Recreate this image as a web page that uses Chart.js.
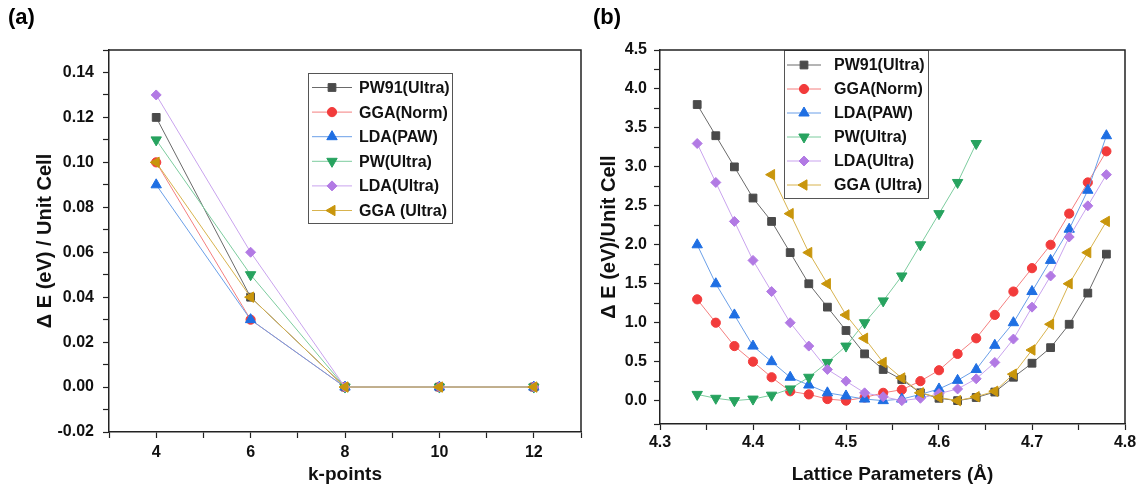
<!DOCTYPE html>
<html><head><meta charset="utf-8">
<script src="https://cdn.jsdelivr.net/npm/chart.js@4.4.1/dist/chart.umd.min.js"></script>
<style>
html,body{margin:0;padding:0;background:#fff;width:1137px;height:488px;overflow:hidden;position:relative;}
#ca{position:absolute;left:0;top:0;}
#cb{position:absolute;left:585px;top:0;}
.lab{position:absolute;font:bold 22px 'Liberation Sans',Arial,sans-serif;color:#000;line-height:26px;}
</style></head>
<body>
<canvas id="ca" width="600" height="488"></canvas>
<canvas id="cb" width="560" height="488"></canvas>
<div class="lab" style="left:8px;top:4px">(a)</div>
<div class="lab" style="left:593px;top:4px">(b)</div>
<script>
// ---------- data ----------
const seriesNames = ['PW91(Ultra)', 'GGA(Norm)', 'LDA(PAW)', 'PW(Ultra)', 'LDA(Ultra)', 'GGA (Ultra)'];

// Panel (a): k-points convergence
const kPoints = [4, 6, 8, 10, 12];
const kPW91   = [0.12, 0.04, 0, 0, 0];
const kGGAN   = [0.10, 0.03, 0, 0, 0];
const kLDAPAW = [0.09, 0.03, 0, 0, 0];
const kPWU    = [0.11, 0.05, 0, 0, 0];
const kLDAU   = [0.13, 0.06, 0, 0, 0];
const kGGAU   = [0.10, 0.04, 0, 0, 0];

// Panel (b): lattice parameter scan
const lattice = [4.34, 4.36, 4.38, 4.40, 4.42, 4.44, 4.46, 4.48, 4.50, 4.52, 4.54, 4.56,
                 4.58, 4.60, 4.62, 4.64, 4.66, 4.68, 4.70, 4.72, 4.74, 4.76, 4.78];
const lPW91   = [3.8, 3.4, 3.0, 2.6, 2.3, 1.9, 1.5, 1.2, 0.9, 0.6, 0.4, 0.27,
                 0.1, 0.03, 0.0, 0.04, 0.11, 0.3, 0.48, 0.68, 0.98, 1.38, 1.88];
const lGGAN   = [1.3, 1.0, 0.7, 0.5, 0.3, 0.12, 0.08, 0.02, 0.0, 0.04, 0.1, 0.14,
                 0.25, 0.39, 0.6, 0.8, 1.1, 1.4, 1.7, 2.0, 2.4, 2.8, 3.2];
const lLDAPAW = [2.0, 1.5, 1.1, 0.7, 0.5, 0.3, 0.2, 0.1, 0.06, 0.02, 0.0, 0.02,
                 0.08, 0.15, 0.26, 0.4, 0.71, 1.0, 1.4, 1.8, 2.2, 2.7, 3.4];
const lPWU    = [0.08, 0.03, 0.0, 0.02, 0.07, 0.15, 0.3, 0.49, 0.7, 1.0, 1.28, 1.6,
                 2.0, 2.4, 2.8, 3.3, null, null, null, null, null, null, null];
const lLDAU   = [3.3, 2.8, 2.3, 1.8, 1.4, 1.0, 0.7, 0.4, 0.25, 0.1, 0.05, 0.0,
                 0.03, 0.09, 0.15, 0.28, 0.49, 0.79, 1.2, 1.6, 2.1, 2.5, 2.9];
const lGGAU   = [null, null, null, null, 2.9, 2.4, 1.9, 1.5, 1.1, 0.8, 0.49, 0.29,
                 0.1, 0.04, 0.0, 0.05, 0.12, 0.34, 0.65, 0.98, 1.5, 1.9, 2.3];

// ---------- styles ----------
const markerColors = ['#4a4a4a', '#f23b3b', '#1f6fe3', '#27a35f', '#b27ae4', '#c9960c'];
const lineColors   = ['#6a6a6a', '#f47f7f', '#6a9fe8', '#7ccc9e', '#c9a3ee', '#d8b34e'];
const pointStyles  = ['rect', 'circle', 'triangle', 'triangle', 'rectRot', 'triangle'];
const pointRots    = [0, 0, 0, 180, 0, 270];
const pointSizes   = [5.5, 4.6, 6, 6, 5, 6];

const FONT = "'Liberation Sans', Arial, sans-serif";

function makeDatasets(xs, ys) {
  return ys.map((arr, i) => ({
    label: seriesNames[i],
    data: xs.map((x, j) => ({ x: x, y: arr[j] })),
    borderColor: lineColors[i],
    backgroundColor: markerColors[i],
    pointBackgroundColor: markerColors[i],
    pointBorderColor: markerColors[i],
    pointBorderWidth: 1,
    pointStyle: pointStyles[i],
    pointRotation: pointRots[i],
    pointRadius: pointSizes[i],
    borderWidth: 1,
    tension: 0,
    spanGaps: false,
    order: ys.length - 1 - i,
    clip: false
  }));
}

const boxLegend = {
  id: 'boxLegend',
  afterDraw(chart, args, o) {
    const ctx = chart.ctx;
    ctx.save();
    ctx.fillStyle = '#fff';
    ctx.fillRect(o.x, o.y, o.w, o.h);
    ctx.strokeStyle = '#555';
    ctx.lineWidth = 1;
    ctx.strokeRect(o.x + 0.5, o.y + 0.5, o.w, o.h);
    chart.data.datasets.forEach((ds, i) => {
      const cy = o.y + o.first + i * o.row;
      ctx.strokeStyle = ds.borderColor;
      ctx.lineWidth = 1;
      ctx.beginPath();
      ctx.moveTo(o.x + o.l1, cy);
      ctx.lineTo(o.x + o.l2, cy);
      ctx.stroke();
      ctx.fillStyle = ds.pointBackgroundColor;
      ctx.strokeStyle = ds.pointBorderColor;
      Chart.helpers.drawPoint(ctx, {
        pointStyle: ds.pointStyle, rotation: ds.pointRotation,
        radius: ds.pointRadius, borderWidth: 1
      }, o.x + (o.l1 + o.l2) / 2, cy);
      ctx.fillStyle = '#111';
      ctx.font = 'bold 16px ' + FONT;
      ctx.textBaseline = 'middle';
      ctx.textAlign = 'left';
      ctx.fillText(ds.label, o.x + o.tx, cy + 1);
    });
    ctx.restore();
  }
};

const frame = {
  id: 'frame',
  afterDraw(chart) {
    const a = chart.chartArea, ctx = chart.ctx;
    ctx.save();
    ctx.strokeStyle = '#222';
    ctx.lineWidth = 1.5;
    ctx.beginPath();
    ctx.moveTo(a.left, a.top);
    ctx.lineTo(a.right, a.top);
    ctx.lineTo(a.right, a.bottom);
    ctx.stroke();
    ctx.restore();
  }
};

function axisCommon() {
  return {
    grid: { drawOnChartArea: false, drawTicks: true, tickLength: 6, tickColor: '#222', tickWidth: 1.2 },
    border: { display: true, color: '#222', width: 1.5 },
  };
}

// ---------- chart (a) ----------
new Chart(document.getElementById('ca'), {
  type: 'line',
  data: { datasets: makeDatasets(kPoints, [kPW91, kGGAN, kLDAPAW, kPWU, kLDAU, kGGAU]) },
  options: {
    responsive: false, animation: false,
    layout: { padding: { left: 0, right: 19, top: 50, bottom: 0 } },
    plugins: {
      legend: { display: false }, tooltip: { enabled: false },
      boxLegend: { x: 308, y: 73, w: 144, h: 150, first: 14.5, row: 24.6, l1: 4, l2: 44, tx: 51 }
    },
    scales: {
      x: Object.assign(axisCommon(), {
        type: 'linear', min: 3, max: 13,
        afterFit(s) { s.height = 56; },
        ticks: {
          stepSize: 1, autoSkip: false, maxRotation: 0, padding: 5, color: '#111',
          font: { family: FONT, size: 16, weight: 'bold' },
          callback: v => (Math.round(v) % 2 === 0 ? String(Math.round(v)) : '')
        },
        title: { display: true, text: 'k-points', color: '#111',
          font: { family: FONT, size: 19, weight: 'bold' }, padding: { top: 0, bottom: 2 } }
      }),
      y: Object.assign(axisCommon(), {
        type: 'linear', min: -0.02, max: 0.15,
        afterFit(s) { s.width = 109; },
        ticks: {
          stepSize: 0.01, autoSkip: false, padding: 9, color: '#111', maxTicksLimit: 100,
          font: { family: FONT, size: 16, weight: 'bold' },
          callback: v => { const k = Math.round(v * 100); return k % 2 === 0 ? (k / 100).toFixed(2) : ''; }
        },
        title: { display: true, text: 'Δ E (eV) / Unit Cell', color: '#111',
          font: { family: FONT, size: 20, weight: 'bold' }, padding: { top: 33, bottom: 0 } }
      })
    }
  },
  plugins: [boxLegend, frame]
});

// ---------- chart (b) ----------
new Chart(document.getElementById('cb'), {
  type: 'line',
  data: { datasets: makeDatasets(lattice, [lPW91, lGGAN, lLDAPAW, lPWU, lLDAU, lGGAU]) },
  options: {
    responsive: false, animation: false,
    layout: { padding: { left: 0, right: 20, top: 50, bottom: 0 } },
    plugins: {
      legend: { display: false }, tooltip: { enabled: false },
      boxLegend: { x: 199, y: 50, w: 144, h: 148, first: 15, row: 24, l1: 3, l2: 37, tx: 50 }
    },
    scales: {
      x: Object.assign(axisCommon(), {
        type: 'linear', min: 4.3, max: 4.8,
        afterFit(s) { s.height = 64; },
        ticks: {
          stepSize: 0.05, autoSkip: false, maxRotation: 0, padding: 3, color: '#111', maxTicksLimit: 100,
          font: { family: FONT, size: 16, weight: 'bold' },
          callback: v => { const k = Math.round(v * 100); return k % 10 === 0 ? (k / 100).toFixed(1) : ''; }
        },
        title: { display: true, text: 'Lattice Parameters (Å)', color: '#111',
          font: { family: FONT, size: 19, weight: 'bold' }, padding: { top: 0, bottom: 2 } }
      }),
      y: Object.assign(axisCommon(), {
        type: 'linear', min: -0.3, max: 4.5,
        afterFit(s) { s.width = 75; },
        ticks: {
          stepSize: 0.25, autoSkip: false, padding: 7, color: '#111', maxTicksLimit: 100,
          font: { family: FONT, size: 16, weight: 'bold' },
          callback: v => { const k = Math.round(v * 100); return k % 50 === 0 ? (k / 100).toFixed(1) : ''; }
        },
        title: { display: true, text: 'Δ E (eV)/Unit Cell', color: '#111',
          font: { family: FONT, size: 20, weight: 'bold' }, padding: { top: 12, bottom: 0 } }
      })
    }
  },
  plugins: [boxLegend, frame]
});
</script>
</body></html>
